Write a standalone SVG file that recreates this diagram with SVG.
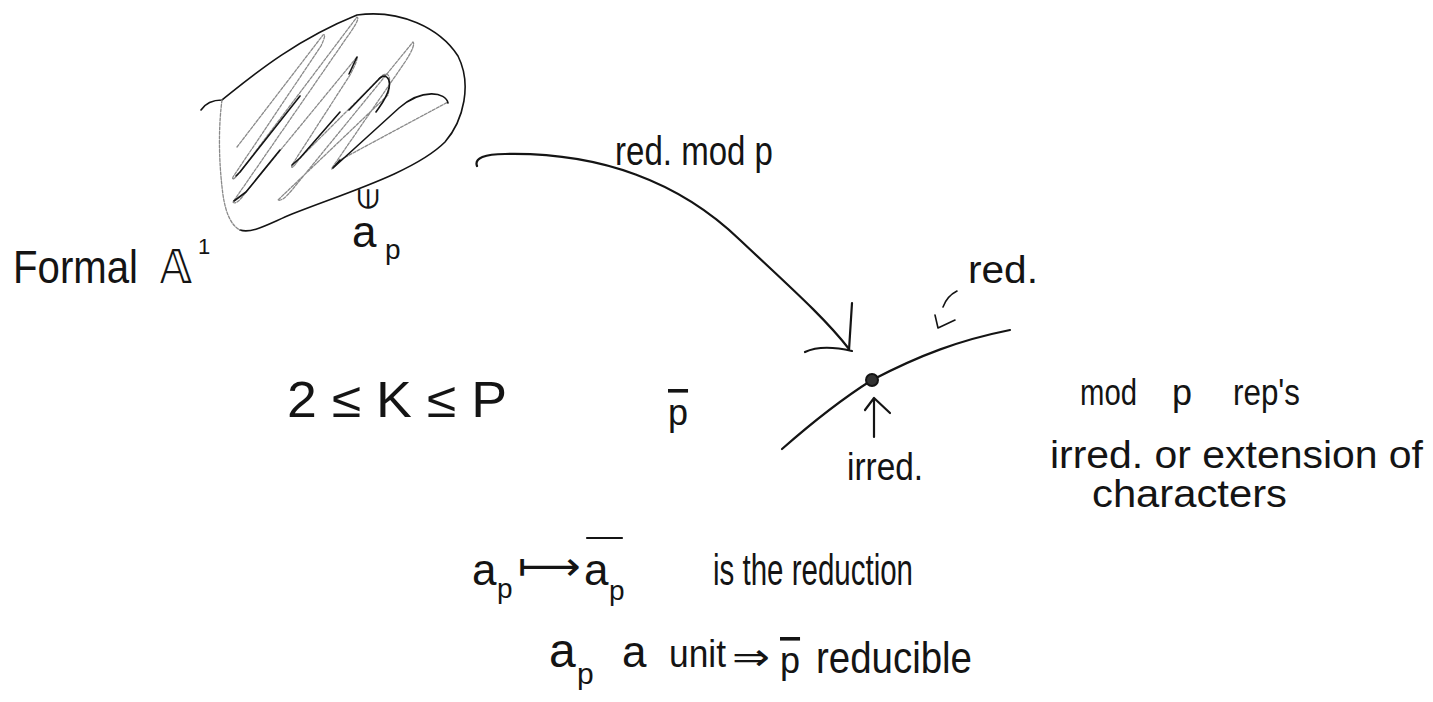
<svg xmlns="http://www.w3.org/2000/svg" width="1433" height="702" viewBox="0 0 1433 702">
<style>
.t{font-family:"Liberation Sans","DejaVu Sans",sans-serif;fill:#141414;}
.m{font-family:"DejaVu Sans","Liberation Sans",sans-serif;fill:#141414;}
.ln{fill:none;stroke:#141414;stroke-width:2.2;stroke-linecap:round;stroke-linejoin:round;}
.thin{fill:none;stroke:#141414;stroke-width:1.6;stroke-linecap:round;stroke-linejoin:round;}
.grey{fill:none;stroke:#8a8a8a;stroke-width:1.3;stroke-linecap:round;stroke-linejoin:round;stroke-dasharray:3 1.5;}
.ov{text-decoration:overline;}
</style>
<rect width="1433" height="702" fill="#ffffff"/>

<g id="blob">
  <path class="thin" d="M201,110 C205,104 212,100 222,100 C245,82 290,42 357,15 C400,9 440,28 458,56 C472,84 464,120 445,142 C415,172 345,193 292,214 C268,224 252,234 240,230"/>
  <path class="grey" d="M222,100 C218,130 219,165 223,195 C226,215 232,226 240,230"/>
  <path class="grey" d="M237,147 L323,35 Q327,33 321,46 L233,177 Q231,183 240,172 L357,17 Q360,18 352,30 L233,202 Q236,206 246,192 L357,57 Q358,60 350,75 L292,165 Q290,172 300,158 L383,75 Q393,70 388,95 L278,200 Q282,202 292,190 L413,42 Q416,45 405,62 L332,168 Q330,172 340,160 L448,102"/>
  <path class="thin" d="M236,176 L240,172 L300,96 M349,110 L378,80 C385,72 391,78 389,88 C387,98 380,106 376,112 M292,165 L300,158 L340,112 M448,103 C446,92 422,88 399,108 L333,168 L340,160 M234,201 L246,192 L280,150 M357,57 L349,74"/>
</g>

<g id="ap-label">
  <text class="m" x="368" y="199" font-size="28" text-anchor="middle" dominant-baseline="central" transform="rotate(-90 368 199)">∈</text>
  <text class="t" x="352" y="247" font-size="44">a</text>
  <text class="t" x="385" y="259" font-size="28">p</text>
</g>

<g id="formal-label">
  <text class="t" x="13" y="283" font-size="46" textLength="125" lengthAdjust="spacingAndGlyphs">Formal</text>
  <text class="m" x="160" y="283" font-size="46" textLength="32" lengthAdjust="spacingAndGlyphs">𝔸</text>
  <text class="t" x="198" y="254" font-size="22">1</text>
</g>

<g id="inequality">
  <text class="t" x="287" y="417" font-size="50" textLength="220" lengthAdjust="spacingAndGlyphs">2 ≤ K ≤ P</text>
</g>

<g id="pbar">
  <text class="t ov" x="668" y="425" font-size="36">p</text>
</g>

<g id="moduli-curve">
  <path class="ln" d="M782,449 C815,420 845,397 872,380 C920,355 960,340 1010,330"/>
  <circle cx="872" cy="380" r="6" fill="#333" stroke="#141414" stroke-width="2"/>
</g>

<g id="red-label">
  <text class="t" x="968" y="283" font-size="38" textLength="70" lengthAdjust="spacingAndGlyphs">red.</text>
</g>

<g id="irred-label">
  <text class="t" x="847" y="480" font-size="38" textLength="76" lengthAdjust="spacingAndGlyphs">irred.</text>
</g>

<g id="right-text">
  <text class="t" x="1080" y="405" font-size="36" textLength="57" lengthAdjust="spacingAndGlyphs">mod</text>
  <text class="t" x="1172" y="405" font-size="36">p</text>
  <text class="t" x="1233" y="405" font-size="36" textLength="67" lengthAdjust="spacingAndGlyphs">rep's</text>
  <text class="t" x="1050" y="468" font-size="38" textLength="373" lengthAdjust="spacingAndGlyphs">irred. or extension of</text>
  <text class="t" x="1092" y="507" font-size="38" textLength="195" lengthAdjust="spacingAndGlyphs">characters</text>
</g>

<g id="bottom-text">
  <text class="t" x="472" y="585" font-size="44">a</text>
  <text class="t" x="497" y="598" font-size="28">p</text>
  <text class="m" x="518" y="580" font-size="40" textLength="63" lengthAdjust="spacingAndGlyphs">⟼</text>
  <line class="ln" x1="587" y1="538" x2="622" y2="538" stroke-width="2.6"/>
  <text class="t" x="584" y="585" font-size="44">a</text>
  <text class="t" x="609" y="600" font-size="28">p</text>
  <text class="t" x="713" y="585" font-size="44" textLength="200" lengthAdjust="spacingAndGlyphs">is the reduction</text>

  <text class="t" x="549" y="667" font-size="48">a</text>
  <text class="t" x="577" y="684" font-size="30">p</text>
  <text class="t" x="622" y="667" font-size="44">a</text>
  <text class="t" x="669" y="667" font-size="38" textLength="57" lengthAdjust="spacingAndGlyphs">unit</text>
  <text class="m" x="732" y="670" font-size="38" textLength="38" lengthAdjust="spacingAndGlyphs">⇒</text>
  <text class="t ov" x="780" y="673" font-size="36">p</text>
  <text class="t" x="816" y="673" font-size="44" textLength="156" lengthAdjust="spacingAndGlyphs">reducible</text>
</g>

<g id="connectors">
  <path class="ln" d="M477,166 C474,158 485,154 505,154 C600,152 680,182 740,240 C790,287 825,318 849,349"/>
  <path class="ln" d="M852,303 L849,350 M805,352 Q822,344 852,351"/>
  <text class="t" x="615" y="165" font-size="40" textLength="158" lengthAdjust="spacingAndGlyphs">red. mod p</text>
  <path class="ln" d="M874,437 L874,398 M865,410 L874,398 L890,413"/>
  <path class="thin" d="M957,291 Q947,296 943,307 M935,315 L938,328 L955,320"/>
</g>
</svg>
